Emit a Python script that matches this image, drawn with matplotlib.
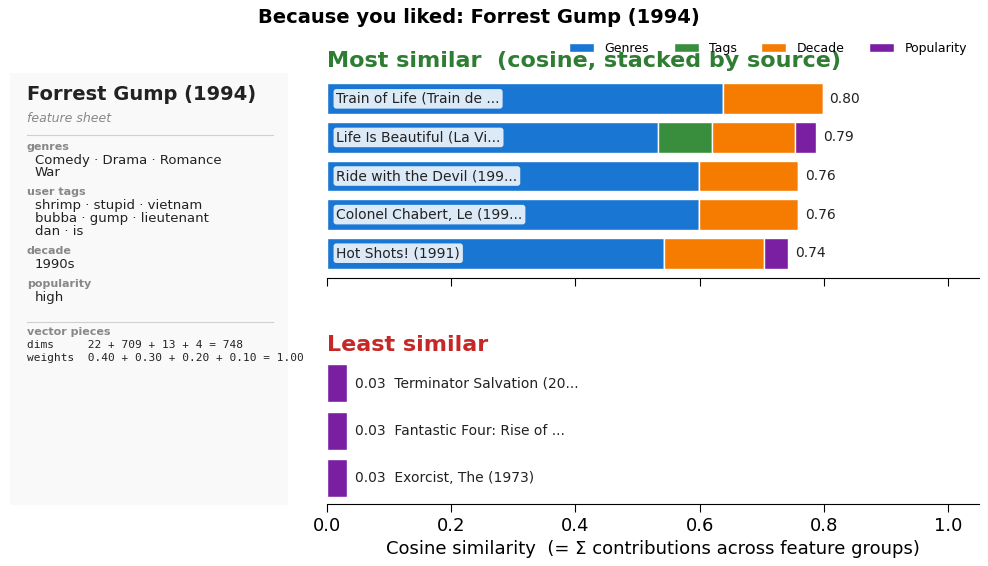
import numpy as np
import matplotlib.pyplot as plt
from matplotlib.patches import Patch

# data
top_titles = ["Train of Life (Train de ...", "Life Is Beautiful (La Vi...",
              "Ride with the Devil (199...", "Colonel Chabert, Le (199...",
              "Hot Shots! (1991)"]
top_genres = [0.638, 0.533, 0.599, 0.599, 0.543]
top_tags = [0.0, 0.087, 0.0, 0.0, 0.0]
top_decade = [0.160, 0.134, 0.160, 0.160, 0.160]
top_pop = [0.0, 0.034, 0.0, 0.0, 0.040]
top_total = [0.80, 0.79, 0.76, 0.76, 0.74]

low_titles = ["Terminator Salvation (20...", "Fantastic Four: Rise of ...",
              "Exorcist, The (1973)"]
low_genres = [0.0, 0.0, 0.0]
low_tags = [0.0, 0.0, 0.0]
low_decade = [0.0, 0.0, 0.0]
low_pop = [0.032, 0.032, 0.032]
low_total = [0.03, 0.03, 0.03]

groups = ["Genres", "Tags", "Decade", "Popularity"]
colors = ["#1976d2", "#388e3c", "#f57c00", "#7b1fa2"]

fig = plt.figure(figsize=(9.88, 5.66), dpi=100)

# left feature sheet
axs = fig.add_axes([0.010, 0.108, 0.282, 0.763])
axs.set_facecolor("#f9f9f9")
axs.set_xlim(0, 279)
axs.set_ylim(432, 0)
for s in axs.spines.values():
    s.set_visible(False)
axs.set_xticks([])
axs.set_yticks([])

def sheet(x, y, s, **kw):
    axs.text(x, y, s, va="center", ha="left", **kw)

sheet(17, 21, "Forrest Gump (1994)", fontsize=14, fontweight="bold", color="#222222")
sheet(17, 46, "feature sheet", fontsize=9, style="italic", color="#888888")
axs.plot([17, 263], [62, 62], color="#d0d0d0", lw=0.8)
sheet(17, 74, "genres", fontsize=8, fontweight="bold", color="#888888")
sheet(25, 88, "Comedy · Drama · Romance", fontsize=9.5, color="#222222")
sheet(25, 100, "War", fontsize=9.5, color="#222222")
sheet(17, 119, "user tags", fontsize=8, fontweight="bold", color="#888888")
sheet(25, 133, "shrimp · stupid · vietnam", fontsize=9.5, color="#222222")
sheet(25, 146, "bubba · gump · lieutenant", fontsize=9.5, color="#222222")
sheet(25, 159, "dan · is", fontsize=9.5, color="#222222")
sheet(17, 178, "decade", fontsize=8, fontweight="bold", color="#888888")
sheet(25, 192, "1990s", fontsize=9.5, color="#222222")
sheet(17, 211, "popularity", fontsize=8, fontweight="bold", color="#888888")
sheet(25, 225, "high", fontsize=9.5, color="#222222")
axs.plot([17, 263], [249, 249], color="#d0d0d0", lw=0.8)
sheet(17, 259, "vector pieces", fontsize=8, fontweight="bold", color="#888888")
sheet(17, 272, "dims     22 + 709 + 13 + 4 = 748", fontsize=8, family="DejaVu Sans Mono", color="#222222")
sheet(17, 285, "weights  0.40 + 0.30 + 0.20 + 0.10 = 1.00", fontsize=8, family="DejaVu Sans Mono", color="#222222")


def stacked(ax, parts, totals, inside, names):
    y = np.arange(len(totals))
    left = np.zeros(len(totals))
    for vals, c in zip(parts, colors):
        vals = np.array(vals)
        ax.barh(y, vals, left=left, height=0.8, color=c, edgecolor="white", linewidth=1)
        left += vals
    for i in range(len(totals)):
        if inside:
            ax.text(0.015, y[i], names[i], va="center", ha="left", fontsize=10, color="#222222",
                    bbox=dict(boxstyle="round,pad=0.2", fc="white", ec="none", alpha=0.85))
            ax.text(left[i] + 0.011, y[i], "%.2f" % totals[i], va="center", ha="left", fontsize=10, color="#222222")
        else:
            ax.text(left[i] + 0.013, y[i], "%.2f  %s" % (totals[i], names[i]), va="center", ha="left",
                    fontsize=10, color="#222222")
    ax.invert_yaxis()
    ax.set_yticks([])
    ax.set_xlim(0, 1.05)
    for s in ["top", "right", "left"]:
        ax.spines[s].set_visible(False)


ax1 = fig.add_axes([0.331, 0.509, 0.660, 0.360])
ax2 = fig.add_axes([0.331, 0.110, 0.660, 0.258], sharex=ax1)

stacked(ax1, [top_genres, top_tags, top_decade, top_pop], top_total, True, top_titles)
stacked(ax2, [low_genres, low_tags, low_decade, low_pop], low_total, False, low_titles)

ax1.tick_params(axis="x", labelbottom=False, length=6)
ax2.tick_params(axis="x", labelsize=13, length=6)
ax2.set_xticks([0, 0.2, 0.4, 0.6, 0.8, 1.0])
ax2.set_xlabel("Cosine similarity  (= Σ contributions across feature groups)", fontsize=13)

ax1.set_title("Most similar  (cosine, stacked by source)", loc="left", fontsize=16,
              fontweight="bold", color="#2e7d32", pad=5)
ax2.set_title("Least similar", loc="left", fontsize=16, fontweight="bold", color="#c62828", pad=5)

handles = [Patch(facecolor=c, edgecolor="white") for c in colors]
fig.legend(handles, groups, loc="center right", bbox_to_anchor=(0.99, 0.915), ncol=4,
           frameon=False, fontsize=9)

fig.suptitle("Because you liked: Forrest Gump (1994)", x=0.485, y=0.985, fontsize=14, fontweight="bold")

plt.savefig("out.png", dpi=100)
